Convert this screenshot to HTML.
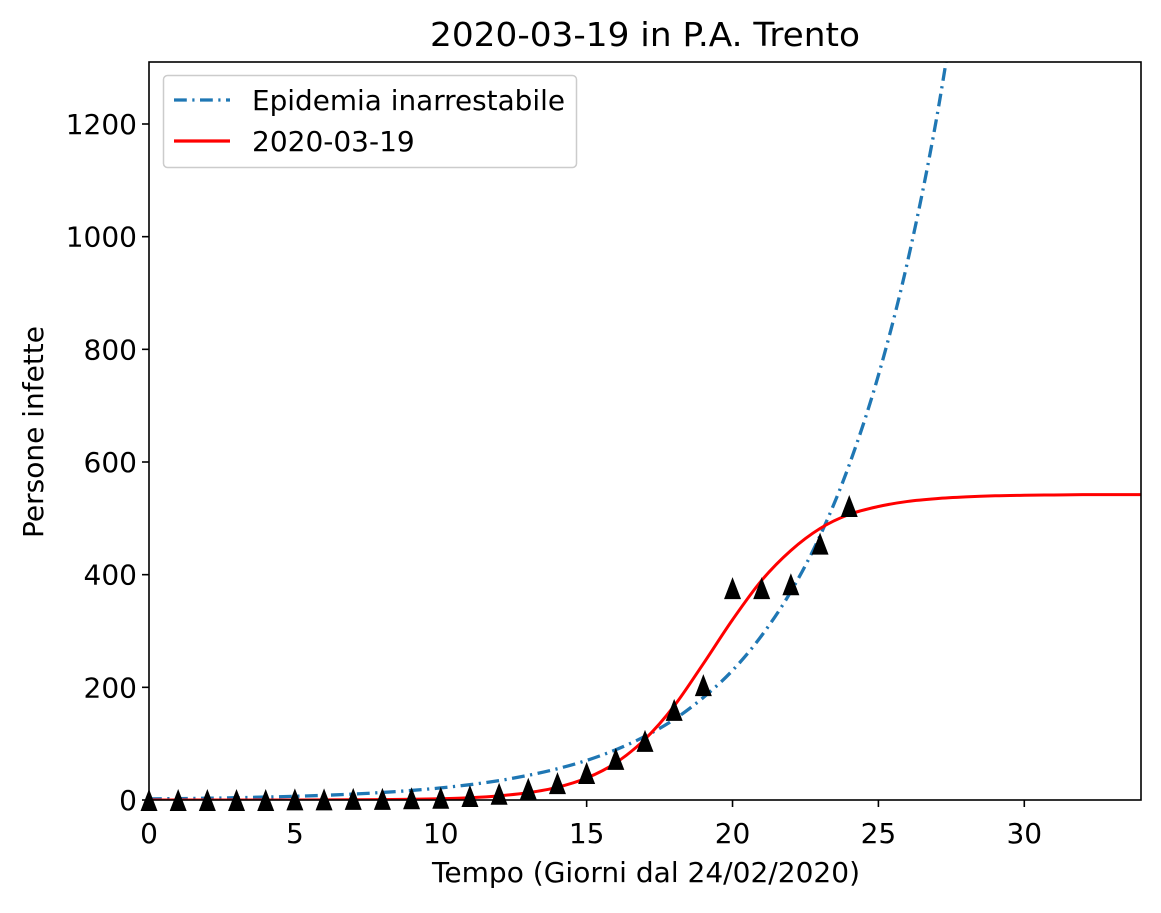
<!DOCTYPE html>
<html><head><meta charset="utf-8"><style>
body{margin:0;background:#fff;}
svg text{font-family:"DejaVu Sans","Liberation Sans",sans-serif;fill:#000;}
</style></head><body>
<svg id="chart" width="1161" height="908" viewBox="0 0 1161 908" xmlns="http://www.w3.org/2000/svg">
<defs><clipPath id="plotclip"><rect x="149" y="62" width="992" height="738"/></clipPath></defs>
<rect width="1161" height="908" fill="#fff"/>
<text x="645" y="46" font-size="33" text-anchor="middle" textLength="430" lengthAdjust="spacingAndGlyphs">2020-03-19 in P.A. Trento</text>
<text x="646" y="882" font-size="28" text-anchor="middle" textLength="428" lengthAdjust="spacingAndGlyphs">Tempo (Giorni dal 24/02/2020)</text>
<text transform="translate(43,432) rotate(-90)" font-size="28" text-anchor="middle">Persone infette</text>
<g id="ticks"></g>
<g id="series" clip-path="url(#plotclip)"></g>
<g id="markers"></g>
<rect x="149" y="62" width="992" height="738" fill="none" stroke="#000" stroke-width="1.6"/>
<g>
<rect x="163.5" y="75.5" width="413" height="92" rx="4" fill="#fff" fill-opacity="0.8" stroke="#ccc" stroke-width="1.5"/>
<line x1="174" y1="100" x2="230" y2="100" stroke="#1f77b4" stroke-width="3.3" stroke-dasharray="12.8,5.5,2.2,5.5"/>
<text x="252" y="110" font-size="28" textLength="313" lengthAdjust="spacingAndGlyphs">Epidemia inarrestabile</text>
<line x1="174" y1="141" x2="230" y2="141" stroke="#ff0000" stroke-width="3.3"/>
<text x="252" y="151" font-size="28">2020-03-19</text>
</g>
</svg>
<script>
const days = [0,1,2,3,4,5,6,7,8,9,10,11,12,13,14,15,16,17,18,19,20,21,22,23,24];
const observed = [0,0,0,0,0,1,1,2,2,3,4,7,11,20,30,48,73,105,160,204,376,376,383,455,522];
const curveDays = [0,1,2,3,4,5,6,7,8,9,10,11,12,13,14,15,16,17,18,19,20,21,22,23,24,25,26,27,28,29,30,31,32,33,34];
const fitValues = [0,0,0,0,0.1,0.1,0.2,0.4,0.7,1.3,2.3,4.1,7.4,13.1,22.6,39,66,108,167,242,320,390,443,482,507,521,530,535,538,540,541,541.5,542,542,542];
const expDays = [0,1,2,3,4,5,6,7,8,9,10,11,12,13,14,15,16,17,18,19,20,21,22,23,24,25,26,27,28];
const expValues = [2.0,2.5,3.2,4.1,5.2,6.6,8.3,10.5,13.4,17.0,21.5,27.2,34.5,43.8,55.5,70.3,89.2,113,143,182,230,292,370,469,595,754,956,1212,1537];
const xTicks = [0,5,10,15,20,25,30];
const yTicks = [0,200,400,600,800,1000,1200];

const X = v => 149 + v*(992/34);
const Y = v => 800 - v*(676/1200);
const NS = 'http://www.w3.org/2000/svg';
function mk(tag, attrs, parent){const e=document.createElementNS(NS,tag);for(const k in attrs)e.setAttribute(k,attrs[k]);parent.appendChild(e);return e;}
const ticks=document.getElementById('ticks');
xTicks.forEach(t=>{
  const l=mk('line',{x1:X(t),x2:X(t),y1:800,y2:807,stroke:'#000','stroke-width':1.6},ticks);
  
  
  const tx=mk('text',{x:X(t),y:843,'font-size':28,'text-anchor':'middle'},ticks);tx.textContent=t;
  
  
});
yTicks.forEach(t=>{
  const l=mk('line',{x1:142,x2:149,y1:Y(t),y2:Y(t),stroke:'#000','stroke-width':1.6},ticks);
  
  
  const tx=mk('text',{x:137,y:Y(t)+10,'font-size':28,'text-anchor':'end'},ticks);tx.textContent=t;
  
  
});
function smooth(xs,ys){
  const p=xs.map((x,i)=>[X(x),Y(ys[i])]);
  let d='M'+p[0][0]+','+p[0][1];
  for(let i=0;i<p.length-1;i++){
    const p0=p[Math.max(0,i-1)],p1=p[i],p2=p[i+1],p3=p[Math.min(p.length-1,i+2)];
    const c1=[p1[0]+(p2[0]-p0[0])/6,p1[1]+(p2[1]-p0[1])/6];
    const c2=[p2[0]-(p3[0]-p1[0])/6,p2[1]-(p3[1]-p1[1])/6];
    d+=' C'+c1[0]+','+c1[1]+' '+c2[0]+','+c2[1]+' '+p2[0]+','+p2[1];
  }
  return d;
}
const series=document.getElementById('series');
const ep=mk('path',{d:smooth(expDays,expValues),fill:'none',stroke:'#1f77b4','stroke-width':3.3,'stroke-dasharray':'12.8,5.5,2.2,5.5'},series);


const fit=mk('path',{d:smooth(curveDays,fitValues),fill:'none',stroke:'#ff0000','stroke-width':3},series);


const mg=document.getElementById('markers');
days.forEach((d,i)=>{
  const cx=X(d),cy=Y(observed[i]);
  const tri=mk('polygon',{points:`${cx},${cy-11} ${cx-8.5},${cy+11} ${cx+8.5},${cy+11}`,fill:'#000'},mg);
  
  
});
</script>
</body></html>
